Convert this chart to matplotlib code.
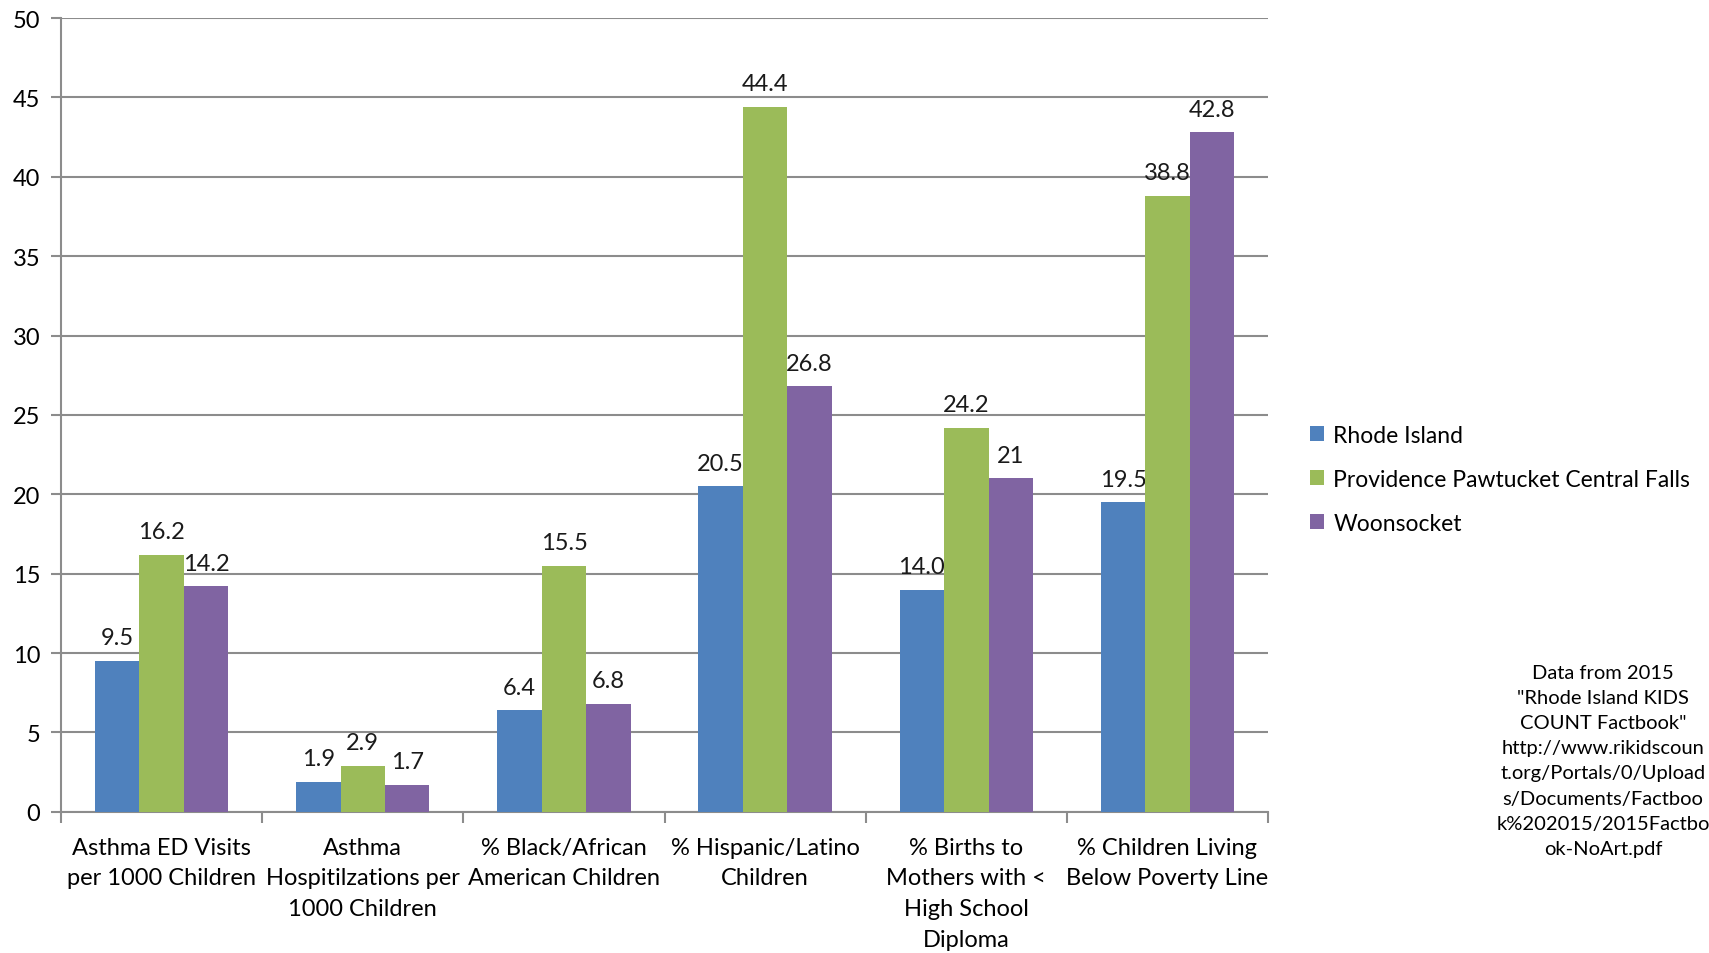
import matplotlib.pyplot as plt
import numpy as np

plt.rcParams["font.family"] = ["Lato", "DejaVu Sans"]

categories = [
    "Asthma ED Visits\nper 1000 Children",
    "Asthma\nHospitilzations per\n1000 Children",
    "% Black/African\nAmerican Children",
    "% Hispanic/Latino\nChildren",
    "% Births to\nMothers with <\nHigh School\nDiploma",
    "% Children Living\nBelow Poverty Line",
]
series_names = ["Rhode Island", "Providence Pawtucket Central Falls", "Woonsocket"]
# value labels as printed; bar heights are parsed from them
rhode_island = ["9.5", "1.9", "6.4", "20.5", "14.0", "19.5"]
providence = ["16.2", "2.9", "15.5", "44.4", "24.2", "38.8"]
woonsocket = ["14.2", "1.7", "6.8", "26.8", "21", "42.8"]
y_ticks = list(range(0, 55, 5))

source_note = ('Data from 2015\n"Rhode Island KIDS\nCOUNT Factbook"\n'
               "http://www.rikidscoun\nt.org/Portals/0/Upload\n"
               "s/Documents/Factboo\nk%202015/2015Factbo\nok-NoArt.pdf")

colors = ["#4F81BD", "#9BBB59", "#8064A2"]
grid_color = "#8C8C8C"

fig = plt.figure(figsize=(17.09, 9.54), dpi=100)
ax = fig.add_axes([0.0357, 0.148, 0.7063, 0.832])

x = np.arange(len(categories))
width = 0.221
for i, (name, labels) in enumerate(zip(series_names, [rhode_island, providence, woonsocket])):
    vals = [float(s) for s in labels]
    pos = x + (i - 1) * width
    ax.bar(pos, vals, width, color=colors[i], label=name, zorder=3)
    for px, v, s in zip(pos, vals, labels):
        ax.annotate(s, (px, v), xytext=(0, 9), textcoords="offset points",
                    ha="center", va="bottom", fontsize=17, color="#1a1a1a")

ax.set_xlim(-0.5, len(categories) - 0.5)
ax.set_ylim(0, 50)
ax.set_yticks(y_ticks)
ax.tick_params(axis="y", length=7, width=1.5, color=grid_color, labelsize=17, pad=8)
ax.yaxis.grid(True, color=grid_color, linewidth=1.5, zorder=0)
ax.set_axisbelow(True)

# category labels centred, ticks at the boundaries
ax.set_xticks(x)
ax.set_xticklabels(categories, fontsize=17, linespacing=1.57)
ax.tick_params(axis="x", length=0, pad=18)
ax.set_xticks(np.arange(len(categories) + 1) - 0.5, minor=True)
ax.tick_params(axis="x", which="minor", length=8, width=1.5, color=grid_color)

for side in ["top", "right"]:
    ax.spines[side].set_visible(False)
for side in ["left", "bottom"]:
    ax.spines[side].set_color(grid_color)
    ax.spines[side].set_linewidth(1.5)

ax.legend(loc="center left", bbox_to_anchor=(1.035, 0.419), frameon=False,
          fontsize=16.5, handlelength=0.6, handleheight=0.6, handletextpad=0.4,
          labelspacing=1.0, borderpad=0, borderaxespad=0)

fig.text(0.938, 0.303, source_note, ha="center", va="top", fontsize=14.5,
         linespacing=1.58)

fig.savefig("out.png", dpi=100)
